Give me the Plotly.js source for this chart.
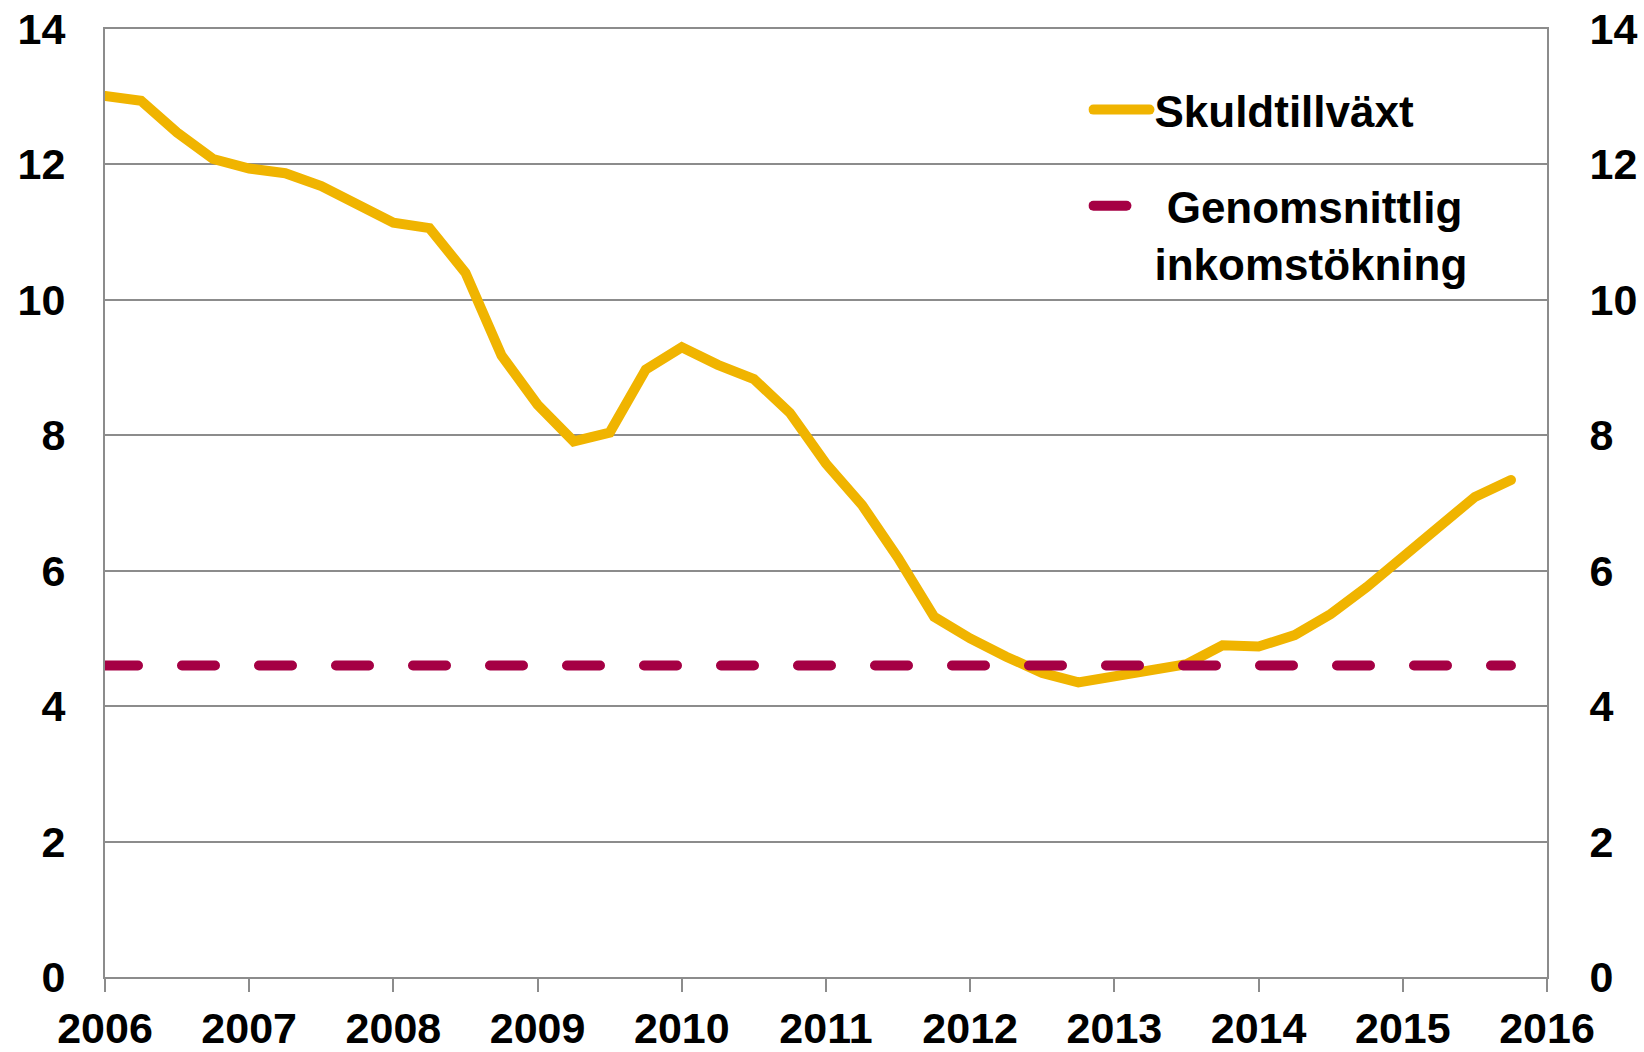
<!DOCTYPE html>
<html>
<head>
<meta charset="utf-8">
<script src="https://cdn.plot.ly/plotly-3.0.1.min.js"></script>
<style>
  html, body { margin: 0; padding: 0; background: #fff; }
  #chart { width: 1644px; height: 1052px; }
  .js-line { stroke-linecap: round; }
</style>
</head>
<body>
<div id="chart"></div>
<script>
// Quarterly observations, 2006 Q1 .. 2015 Q4 (x in fractional years)
const quarterX = [
  2006.00, 2006.25, 2006.50, 2006.75,
  2007.00, 2007.25, 2007.50, 2007.75,
  2008.00, 2008.25, 2008.50, 2008.75,
  2009.00, 2009.25, 2009.50, 2009.75,
  2010.00, 2010.25, 2010.50, 2010.75,
  2011.00, 2011.25, 2011.50, 2011.75,
  2012.00, 2012.25, 2012.50, 2012.75,
  2013.00, 2013.25, 2013.50, 2013.75,
  2014.00, 2014.25, 2014.50, 2014.75,
  2015.00, 2015.25, 2015.50, 2015.75
];
// Skuldtillväxt (debt growth, %)
const skuldtillvaxt = [
  13.01, 12.94, 12.47, 12.08,
  11.94, 11.87, 11.68, 11.41,
  11.14, 11.06, 10.40, 9.18,
  8.45, 7.91, 8.04, 8.97,
  9.30, 9.04, 8.83, 8.33,
  7.58, 6.97, 6.19, 5.32,
  5.00, 4.73, 4.49, 4.35,
  4.44, 4.50, 4.62, 4.90,
  4.88, 5.05, 5.36, 5.76,
  6.21, 6.64, 7.09, 7.34
];
// Genomsnittlig inkomstökning (average income growth, %)
const inkomstX = [2006.00, 2015.75];
const inkomstY = [4.6, 4.6];

const yearTicks = [2006, 2007, 2008, 2009, 2010, 2011, 2012, 2013, 2014, 2015, 2016];
const yTicks = [0, 2, 4, 6, 8, 10, 12, 14];

const seriesNames = ['Skuldtillväxt', '\u00a0Genomsnittlig<br>inkomstökning'];

const FONT = 'Liberation Sans, Arial, Helvetica, sans-serif';
const GRID = '#8c8c8c';

const traces = [
  {
    x: quarterX, y: skuldtillvaxt, type: 'scatter', mode: 'lines',
    name: seriesNames[0], legendgroup: 'a',
    line: { color: '#F0B400', width: 10 }
  },
  {
    x: inkomstX, y: inkomstY, type: 'scatter', mode: 'lines',
    name: seriesNames[1], legendgroup: 'b', yaxis: 'y2',
    line: { color: '#A50044', width: 10, dash: '33px,44px' }
  }
];

const tickFont = { family: FONT, size: 43, color: '#000', weight: 700 };

const layout = {
  width: 1644, height: 1052,
  paper_bgcolor: '#fff', plot_bgcolor: '#fff',
  margin: { l: 105, r: 97, t: 29, b: 75, pad: 0 },
  showlegend: true,
  legend: {
    x: 0.682, y: 0.952, xanchor: 'left', yanchor: 'top',
    font: { family: FONT, size: 44, color: '#000', weight: 700 },
    bgcolor: 'rgba(0,0,0,0)', borderwidth: 0, itemwidth: 56,
    traceorder: 'grouped', tracegroupgap: 36, valign: 'top'
  },
  xaxis: {
    type: 'linear', range: [2006, 2016],
    tickmode: 'array', tickvals: yearTicks, ticktext: yearTicks.map(String),
    ticks: 'outside', ticklen: 13, tickwidth: 2, tickcolor: GRID,
    showline: true, mirror: true, linecolor: GRID, linewidth: 2,
    showgrid: false, zeroline: false,
    tickfont: tickFont, ticklabelstandoff: -1
  },
  yaxis: {
    range: [0, 14], tickmode: 'array', tickvals: yTicks,
    ticks: '', showline: true, linecolor: GRID, linewidth: 2,
    showgrid: true, gridcolor: GRID, gridwidth: 2,
    zeroline: false, tickfont: tickFont, ticklabelstandoff: 29
  },
  yaxis2: {
    range: [0, 14], tickmode: 'array', tickvals: yTicks,
    overlaying: 'y', side: 'right', anchor: 'x',
    ticks: '', showline: true, linecolor: GRID, linewidth: 2,
    showgrid: false, zeroline: false, tickfont: tickFont, ticklabelstandoff: 32
  }
};

Plotly.newPlot('chart', traces, layout, { displayModeBar: false, staticPlot: true });
</script>
</body>
</html>
